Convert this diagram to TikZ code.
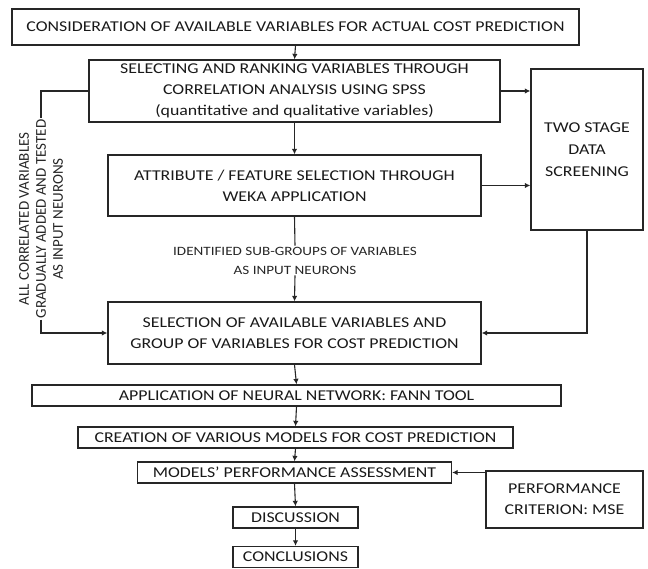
\documentclass[tikz,border=0pt]{standalone}
\usepackage{fontspec}
\setmainfont{Carlito}[FakeStretch=1.19]
\newfontfamily\plainfont{Carlito}
\usetikzlibrary{arrows.meta}
\begin{document}
\begin{tikzpicture}[x=1pt,y=-1pt,
  box/.style={draw=black!85, line width=1.3pt, inner sep=0pt, align=center, text=black!90, font=\fontsize{15}{21}\selectfont},
  conn/.style={draw=black!85, line width=1.1pt, -{Latex[length=5.5pt,width=5.5pt]}},
  line/.style={draw=black!85, line width=1.1pt},
  lbl/.style={inner sep=1pt, align=center, text=black!85}]
\useasboundingbox (0,0) rectangle (648,569);

\node[box, minimum width=567pt, minimum height=36pt] (b1) at (295.5,27) {CONSIDERATION OF AVAILABLE VARIABLES FOR ACTUAL COST PREDICTION};
\node[box, minimum width=411pt, minimum height=62pt] (b2) at (294.5,91) {SELECTING AND RANKING VARIABLES THROUGH\\CORRELATION ANALYSIS USING SPSS\\(quantitative and qualitative variables)};
\node[box, minimum width=112pt, minimum height=161pt, font=\fontsize{15}{22}\selectfont] (ts) at (587,149.5) {TWO STAGE\\DATA\\SCREENING};
\node[box, minimum width=373pt, minimum height=61pt] (b3) at (294.5,185.5) {ATTRIBUTE / FEATURE SELECTION THROUGH\\WEKA APPLICATION};
\node[box, minimum width=373pt, minimum height=62pt] (b4) at (294.5,333) {SELECTION OF AVAILABLE VARIABLES AND\\GROUP OF VARIABLES FOR COST PREDICTION};
\node[box, minimum width=529pt, minimum height=21pt] (b5) at (296.5,395.5) {APPLICATION OF NEURAL NETWORK: FANN TOOL};
\node[box, minimum width=435pt, minimum height=21pt] (b6) at (295.5,437.5) {CREATION OF VARIOUS MODELS FOR COST PREDICTION};
\node[box, minimum width=314pt, minimum height=21pt] (b7) at (294.5,472.5) {MODELS' PERFORMANCE ASSESSMENT};
\node[box, minimum width=125pt, minimum height=21pt] (b8) at (295.5,517.5) {DISCUSSION};
\node[box, minimum width=125pt, minimum height=21pt] (b9) at (295.5,557) {CONCLUSIONS};
\node[box, minimum width=157pt, minimum height=57pt] (perf) at (564.5,499.5) {PERFORMANCE\\CRITERION: MSE};

\node[lbl, font=\fontsize{12.7}{19}\selectfont] (mid) at (295,260.5) {IDENTIFIED SUB-GROUPS OF VARIABLES\\AS INPUT NEURONS};
\node[lbl, rotate=90, font=\plainfont\fontsize{15}{17}\selectfont] (side) at (41,219) {ALL CORRELATED VARIABLES\\GRADUALLY ADDED AND TESTED\\AS INPUT NEURONS};

\draw[conn] (b1.south) -- (b2.north);
\draw[conn] (b2.south) -- (b3.north);
\draw[line] (b3.south) -- (mid.north);
\draw[conn] (mid.south) -- (b4.north);
\draw[conn] (b4.south) -- (b5.north);
\draw[conn] (b5.south) -- (b6.north);
\draw[conn] (b6.south) -- (b7.north);
\draw[conn] (b7.south) -- (b8.north);
\draw[conn] (b8.south) -- (b9.north);
\draw[conn] (b2.east) -- (ts.west |- b2.east);
\draw[conn] (b3.east) -- (ts.west |- b3.east);
\draw[conn] (ts.south) |- (b4.east);
\draw[conn] (perf.west |- b7.east) -- (b7.east);
\draw[line] (b2.west) -| (side.east);
\draw[conn] (side.west) |- (b4.west);
\end{tikzpicture}
\end{document}
